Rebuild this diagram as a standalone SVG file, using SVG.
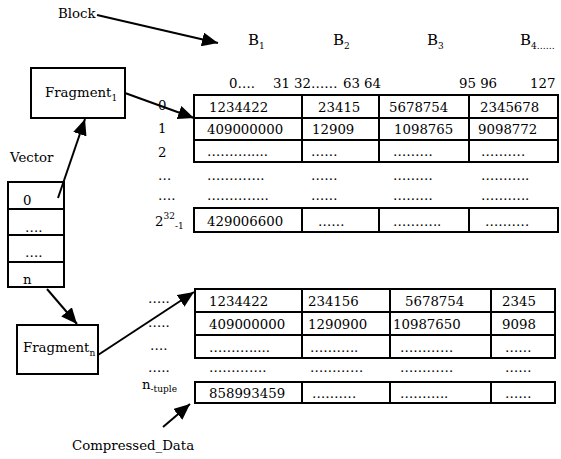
<svg xmlns="http://www.w3.org/2000/svg" width="561" height="459" viewBox="0 0 561 459">
<style>
text{font-family:"DejaVu Serif","Liberation Serif",serif;font-size:13.3px;fill:#000}
.hd{font-size:15px}
.sub{font-size:9px}
.box{fill:none;stroke:#000;stroke-width:2}
.ln{stroke:#000;stroke-width:2}
.arr{stroke:#000;stroke-width:2;fill:none;marker-end:url(#ah)}
</style>
<defs>
<marker id="ah" markerUnits="userSpaceOnUse" viewBox="0 0 16 14" refX="16" refY="7" markerWidth="16" markerHeight="14" orient="auto">
<path d="M0,0 L16,7 L0,14 Z" fill="#000"/>
</marker>
</defs>
<rect width="561" height="459" fill="#fff"/>

<g id="block-label"><text x="58" y="18">Block</text></g>
<g id="block-headers">
<text class="hd" x="248" y="45">B<tspan class="sub" dy="4">1</tspan></text>
<text class="hd" x="333" y="45">B<tspan class="sub" dy="4">2</tspan></text>
<text class="hd" x="427" y="45">B<tspan class="sub" dy="4">3</tspan></text>
<text class="hd" x="520" y="45">B<tspan class="sub" dy="4">4……</tspan></text>
</g>
<g id="bit-ranges">
<text x="229" y="88">0….</text>
<text x="273" y="88">31</text>
<text x="294" y="88">32……</text>
<text x="343" y="88">63</text>
<text x="364" y="88">64</text>
<text x="459" y="88">95 96</text>
<text x="530" y="88">127</text>
</g>

<g id="fragment1">
<rect class="box" x="31" y="68" width="94" height="50"/>
<text x="45" y="97">Fragment<tspan class="sub" dy="4">1</tspan></text>
</g>

<g id="vector">
<text x="10" y="162">Vector</text>
<rect class="box" x="8" y="182" width="56" height="105"/>
<line class="ln" x1="8" y1="209" x2="64" y2="209"/>
<line class="ln" x1="8" y1="235" x2="64" y2="235"/>
<line class="ln" x1="8" y1="262" x2="64" y2="262"/>
<text x="23" y="205">0</text>
<text x="25" y="232">….</text>
<text x="25" y="257">….</text>
<text x="23" y="284">n</text>
</g>

<g id="fragmentn">
<rect class="box" x="17" y="325" width="81" height="49"/>
<text x="23" y="352">Fragment<tspan class="sub" dy="4">n</tspan></text>
</g>

<g id="table1">
<text x="158" y="110">0</text>
<text x="158" y="133">1</text>
<text x="158" y="157">2</text>
<text x="158" y="180">…</text>
<text x="158" y="200">….</text>
<text x="155" y="226">2<tspan class="sub" dy="-7">32</tspan><tspan class="sub" dy="10">-1</tspan></text>
<rect class="box" x="194" y="95" width="364" height="67"/>
<line class="ln" x1="194" y1="118" x2="558" y2="118"/>
<line class="ln" x1="194" y1="140" x2="558" y2="140"/>
<line class="ln" x1="302" y1="95" x2="302" y2="162"/>
<line class="ln" x1="379" y1="95" x2="379" y2="162"/>
<line class="ln" x1="469" y1="95" x2="469" y2="162"/>
<text x="209" y="112">1234422</text>
<text x="318" y="112">23415</text>
<text x="389" y="112">5678754</text>
<text x="480" y="112">2345678</text>
<text x="207" y="134">409000000</text>
<text x="312" y="134">12909</text>
<text x="394" y="134">1098765</text>
<text x="478" y="134">9098772</text>
<text x="207" y="156">……….....</text>
<text x="311" y="156">……</text>
<text x="393" y="156">………</text>
<text x="481" y="156">……….</text>
<text x="207" y="180">………….</text>
<text x="311" y="180">……</text>
<text x="393" y="180">………</text>
<text x="481" y="180">………..</text>
<text x="207" y="200">…………..</text>
<text x="311" y="200">……</text>
<text x="393" y="200">………</text>
<text x="481" y="200">………..</text>
<rect class="box" x="194" y="208" width="364" height="24"/>
<line class="ln" x1="302" y1="208" x2="302" y2="232"/>
<line class="ln" x1="379" y1="208" x2="379" y2="232"/>
<line class="ln" x1="469" y1="208" x2="469" y2="232"/>
<text x="207" y="226">429006600</text>
<text x="318" y="226">……</text>
<text x="393" y="226">………..</text>
<text x="485" y="226">……….</text>
</g>

<g id="table2">
<text x="148" y="303">…..</text>
<text x="148" y="327">…..</text>
<text x="150" y="350">….</text>
<text x="148" y="372">…..</text>
<text x="142" y="389">n<tspan class="sub" dy="3">-tuple</tspan></text>
<rect class="box" x="195" y="289" width="360" height="69"/>
<line class="ln" x1="195" y1="312" x2="555" y2="312"/>
<line class="ln" x1="195" y1="335" x2="555" y2="335"/>
<line class="ln" x1="302" y1="289" x2="302" y2="358"/>
<line class="ln" x1="390" y1="289" x2="390" y2="358"/>
<line class="ln" x1="491" y1="289" x2="491" y2="358"/>
<text x="209" y="306">1234422</text>
<text x="308" y="306">234156</text>
<text x="405" y="306">5678754</text>
<text x="502" y="306">2345</text>
<text x="209" y="329">409000000</text>
<text x="308" y="329">1290900</text>
<text x="393" y="329">10987650</text>
<text x="502" y="329">9098</text>
<text x="209" y="352">……….....</text>
<text x="310" y="352">………..</text>
<text x="400" y="352">…………</text>
<text x="505" y="352">……</text>
<text x="209" y="372">………….</text>
<text x="310" y="372">…………</text>
<text x="400" y="372">…………</text>
<text x="505" y="372">……</text>
<rect class="box" x="195" y="382" width="360" height="21"/>
<line class="ln" x1="302" y1="382" x2="302" y2="403"/>
<line class="ln" x1="390" y1="382" x2="390" y2="403"/>
<line class="ln" x1="491" y1="382" x2="491" y2="403"/>
<text x="209" y="398">858993459</text>
<text x="312" y="398">……….</text>
<text x="400" y="398">………..</text>
<text x="505" y="398">……</text>
</g>

<g id="compressed-label"><text x="72" y="450">Compressed_Data</text></g>

<g id="connectors">
<line class="arr" x1="97" y1="15" x2="218" y2="43"/>
<line class="arr" x1="125" y1="93" x2="194" y2="118"/>
<line class="arr" x1="58" y1="198" x2="85" y2="119"/>
<line class="arr" x1="47" y1="289" x2="77" y2="324"/>
<line class="arr" x1="98" y1="355" x2="194" y2="292"/>
<line class="arr" x1="163" y1="427" x2="190" y2="404"/>
</g>
</svg>
